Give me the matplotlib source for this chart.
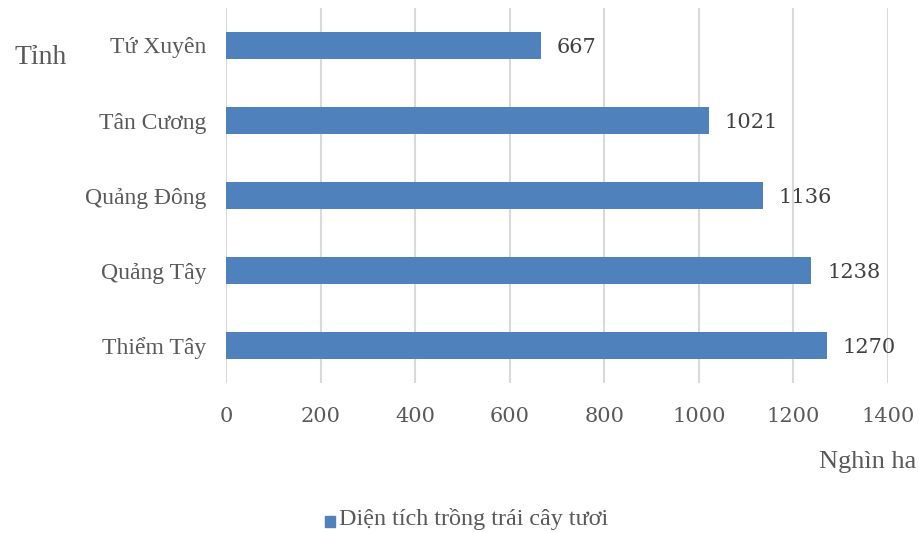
import matplotlib
matplotlib.use("Agg")
import matplotlib.pyplot as plt
from matplotlib.patches import Rectangle

# data (top to bottom as shown in the chart)
provinces = ["Tứ Xuyên", "Tân Cương", "Quảng Đông", "Quảng Tây", "Thiểm Tây"]
area = [667, 1021, 1136, 1238, 1270]
x_ticks = [0, 200, 400, 600, 800, 1000, 1200, 1400]
series_name = "Diện tích trồng trái cây tươi"

bar_color = "#4f81bd"
text_color = "#595959"
grid_color = "#d9d9d9"
num_font = ['DejaVu Serif']

plt.rcParams['font.family'] = ['Liberation Serif', 'DejaVu Serif']

fig = plt.figure(figsize=(9.2, 5.33), dpi=100)
ax = fig.add_axes([0.2457, 0.2814, 0.7195, 0.7036])

# bottom-up positions so first province sits on top
pos = list(range(len(provinces)))[::-1]
ax.barh(pos, area, height=0.35, color=bar_color, zorder=3)

for p, v in zip(pos, area):
    ax.text(v + 33, p - 0.03, str(v), va="center", ha="left",
            fontsize=15, color="#404040", family=num_font, zorder=4)

ax.set_xlim(0, 1400)
ax.set_ylim(-0.5, len(provinces) - 0.5)
ax.set_xticks(x_ticks)
ax.set_xticklabels([str(t) for t in x_ticks], fontsize=15, color=text_color,
                   family=num_font)
ax.set_yticks(pos)
ax.set_yticklabels(provinces, fontsize=17, color=text_color)
ax.tick_params(axis="both", length=0)
ax.tick_params(axis="x", pad=17)
ax.tick_params(axis="y", pad=14)

ax.grid(axis="x", color=grid_color, linewidth=1.5, zorder=0)
for s in ax.spines.values():
    s.set_visible(False)

# axis titles
fig.text(15 / 920, 1 - 57 / 533, "Tỉnh", fontsize=20, color=text_color,
         ha="left", va="center")
fig.text(916 / 920, 1 - 462 / 533, "Nghìn ha", fontsize=19, color=text_color,
         ha="right", va="center")

# legend
fig.patches.append(Rectangle((325 / 920, 1 - 527 / 533), 10 / 920, 11 / 533,
                             transform=fig.transFigure, color=bar_color))
fig.text(339 / 920, 1 - 519 / 533, series_name, fontsize=17.4, color=text_color,
         ha="left", va="center")

fig.savefig("out.png", dpi=100, facecolor="white")
